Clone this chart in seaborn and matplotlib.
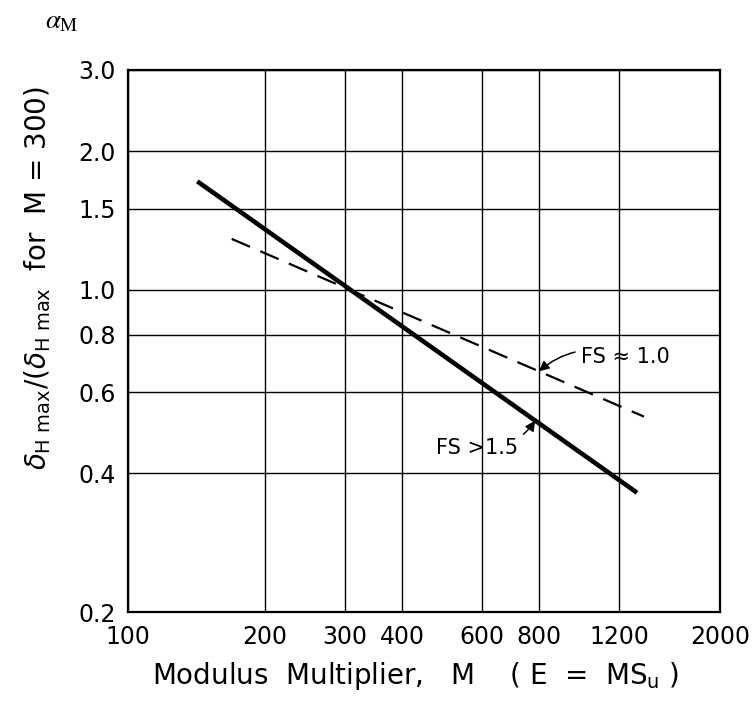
import numpy as np
import pandas as pd
import matplotlib
matplotlib.use("Agg")
import matplotlib.pyplot as plt
import seaborn as sns

# Design curves, read as straight lines on log-log paper
m_solid = [142, 1314]
ratio_solid = [1.72, 0.363]
m_dashed = [169, 1361]
ratio_dashed = [1.29, 0.531]

x_ticks = [100, 200, 300, 400, 600, 800, 1200, 2000]
x_tick_labels = ["100", "200", "300", "400", "600", "800", "1200", "2000"]
y_ticks = [0.2, 0.4, 0.6, 0.8, 1.0, 1.5, 2.0, 3.0]
y_tick_labels = ["0.2", "0.4", "0.6", "0.8", "1.0", "1.5", "2.0", "3.0"]

sns.set_style("white")
plt.rcParams["font.family"] = ["DejaVu Sans"]
plt.rcParams["mathtext.fontset"] = "dejavusans"
plt.rcParams["text.color"] = "black"
plt.rcParams["axes.labelcolor"] = "black"

fig = plt.figure(figsize=(7.55, 7.01), dpi=100)
ax = fig.add_axes([128 / 755, 1 - 612 / 701, (720 - 128) / 755, (612 - 70) / 701])

df_solid = pd.DataFrame({"M": m_solid, "ratio": ratio_solid})
df_dashed = pd.DataFrame({"M": m_dashed, "ratio": ratio_dashed})

sns.lineplot(data=df_solid, x="M", y="ratio", ax=ax, color="black",
             linewidth=3.3, solid_capstyle="butt", zorder=3)
sns.lineplot(data=df_dashed, x="M", y="ratio", ax=ax, color="black",
             linewidth=1.6, linestyle=(0, (9, 5)), zorder=3)

ax.set_xscale("log")
ax.set_yscale("log")
ax.set_xlim(100, 2000)
ax.set_ylim(0.2, 3.0)
ax.minorticks_off()
ax.set_xticks(x_ticks)
ax.set_xticklabels(x_tick_labels)
ax.set_yticks(y_ticks)
ax.set_yticklabels(y_tick_labels)
ax.tick_params(length=0, labelsize=17, colors="black", pad=9)
ax.grid(True, color="black", linewidth=1.0)
for s in ax.spines.values():
    s.set_visible(True)
    s.set_color("black")
    s.set_linewidth(1.6)

ax.set_xlabel(r"Modulus  Multiplier,   M    ( E  =  MS$_\mathregular{u}$ )",
              fontsize=20)
ax.xaxis.set_label_coords(0.485, -0.088)
ax.set_ylabel(r"$\delta_{\mathregular{H\ max}}/(\delta_{\mathregular{H\ max}}$  for  M = 300)",
              fontsize=20)
ax.yaxis.set_label_coords(-0.127, 0.616)


def on_line(xs, ys, x):
    lx, ly = np.log10(xs), np.log10(ys)
    return 10 ** np.interp(np.log10(x), lx, ly)


x_a = 800
ax.annotate("FS ≈ 1.0", xy=(x_a, on_line(m_dashed, ratio_dashed, x_a)),
            xytext=(990, 0.716), fontsize=15, va="center", ha="left",
            arrowprops=dict(arrowstyle="-|>", color="black", lw=1.1,
                            connectionstyle="arc3,rad=0.3", shrinkA=2, shrinkB=0))
x_b = 785
ax.annotate("FS >1.5", xy=(x_b, on_line(m_solid, ratio_solid, x_b)),
            xytext=(720, 0.454), fontsize=15, va="center", ha="right",
            arrowprops=dict(arrowstyle="-|>", color="black", lw=1.1,
                            connectionstyle="arc3,rad=0.3", shrinkA=2, shrinkB=0))

fig.text(45 / 755, 1 - 21 / 701, r"$\alpha_\mathrm{M}$", fontsize=19.5,
         math_fontfamily="stix", va="center")

fig.savefig("out.png", dpi=100)
